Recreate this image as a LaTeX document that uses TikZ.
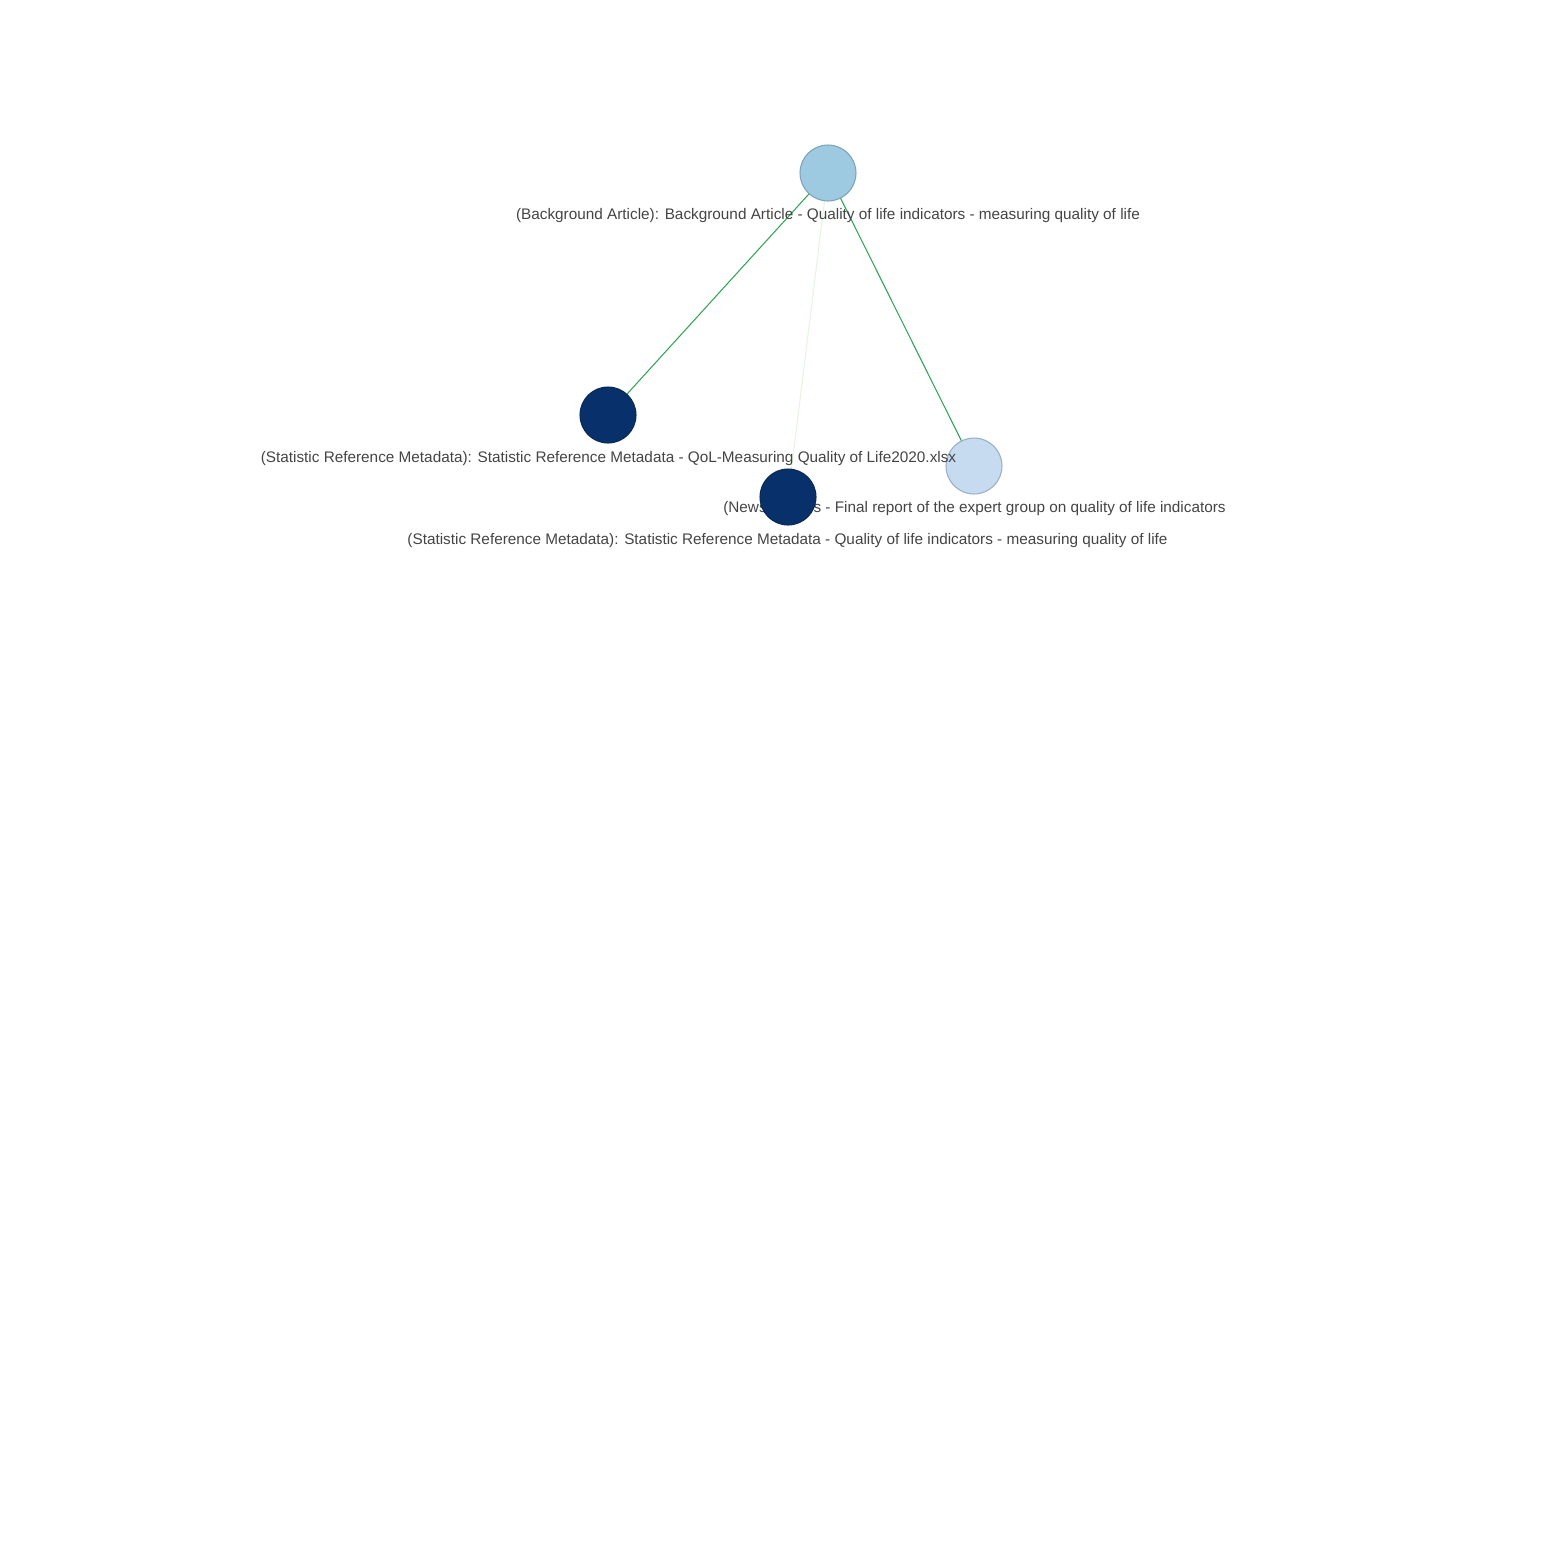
\documentclass[tikz,border=0pt]{standalone}
\usepackage{fontspec}
\setmainfont{Liberation Sans}
\usetikzlibrary{positioning}

\definecolor{bgnode}{HTML}{9ECAE1}
\definecolor{bgline}{HTML}{7BA3BA}
\definecolor{statnode}{HTML}{08306B}
\definecolor{statline}{HTML}{0A2A55}
\definecolor{newsnode}{HTML}{C6DBEF}
\definecolor{newsline}{HTML}{9AAFC6}
\definecolor{edgegreen}{HTML}{31A354}
\definecolor{edgepale}{HTML}{E5F5E0}
\definecolor{labelgray}{HTML}{444444}

\begin{document}
\begin{tikzpicture}[
    x=0.02cm, y=-0.02cm,
    doc/.style={circle, draw, line width=0.6pt, minimum size=1.12cm, inner sep=0pt},
    bgdoc/.style={doc, fill=bgnode, draw=bgline},
    statdoc/.style={doc, fill=statnode, draw=statline},
    newsdoc/.style={doc, fill=newsnode, draw=newsline},
    doclabel/.style={text=labelgray, font=\fontsize{8.72pt}{10pt}\selectfont, inner sep=0pt},
    link/.style={draw=edgegreen, line width=0.6pt},
    weaklink/.style={draw=edgepale, line width=0.6pt}
]
\useasboundingbox (0,0) rectangle (1563,1563);

% node positions
\coordinate (pbg) at (828,173);
\coordinate (pqol) at (608,415);
\coordinate (pstat) at (788,497);
\coordinate (pnews) at (974,466);

% Edges
\draw[link] (pbg) -- (pqol);
\draw[link] (pbg) -- (pnews);
\draw[weaklink] (pbg) -- (pstat);

% Documents
\node[bgdoc] (bg) at (pbg) {};
\node[statdoc] (qol) at (pqol) {};
\node[newsdoc] (news) at (pnews) {};
\node[doclabel] (newslab) at (974.5,509) {(News Articles - Final report of the expert group on quality of life indicators};
\node[statdoc] (stat) at (pstat) {};

% Labels
\node[doclabel] (bglab) at (828,216) {(Background Article): Background Article - Quality of life indicators - measuring quality of life};
\node[doclabel] (qollab) at (608.5,459) {(Statistic Reference Metadata): Statistic Reference Metadata - QoL-Measuring Quality of Life2020.xlsx};
\node[doclabel] (statlab) at (787.5,541) {(Statistic Reference Metadata): Statistic Reference Metadata - Quality of life indicators - measuring quality of life};

\end{tikzpicture}
\end{document}
